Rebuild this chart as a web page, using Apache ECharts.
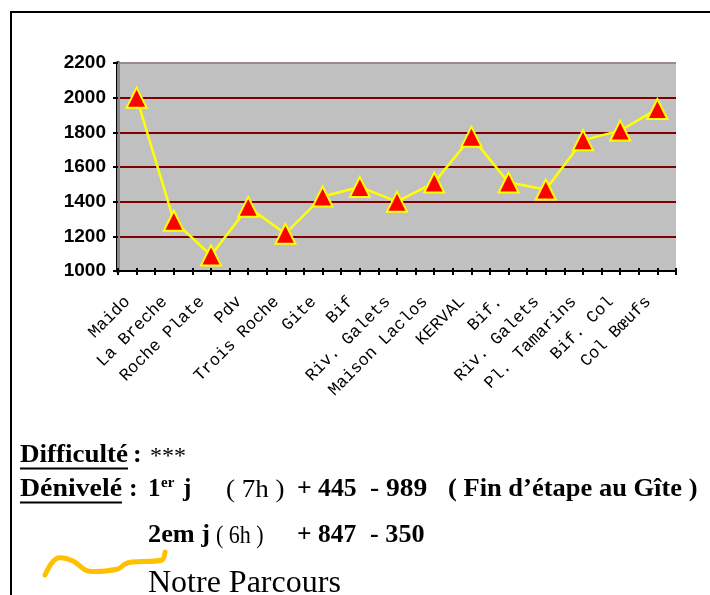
<!DOCTYPE html>
<html>
<head>
<meta charset="utf-8">
<script src="https://cdn.jsdelivr.net/npm/echarts@6/dist/echarts.min.js"></script>
<style>
html,body{margin:0;padding:0;background:#fff;}
#c{width:710px;height:595px;}
</style>
</head>
<body>
<div id="c"></div>
<script>
var categories = ['Maido','La Breche','Roche Plate','Pdv','Trois Roche','Gite','Bif','Riv. Galets','Maison Laclos','KERVAL','Bif.','Riv. Galets','Pl. Tamarins','Bif. Col','Col Bœufs'];
var altitudes = [2000, 1290, 1090, 1370, 1215, 1430, 1485, 1400, 1510, 1775, 1510, 1470, 1755, 1810, 1935];
var yTicks = {min: 1000, max: 2200, interval: 200};

var chart = echarts.init(document.getElementById('c'));
var serif = "'Liberation Serif','Times New Roman',serif";

// baseline-positioned text helper
function txt(x, baseline, s, size, weight, sx) {
  return {
    type: 'text', x: x, y: baseline - 0.32 * size, scaleX: sx || 1,
    style: {x: 0, y: 0, text: s, font: (weight || '') + ' ' + size + 'px ' + serif, fill: '#000', verticalAlign: 'middle', align: 'left'}
  };
}

var option = {
  backgroundColor: '#fff',
  animation: false,
  grid: {left: 118, top: 63, right: 34, bottom: 324, show: true, backgroundColor: '#C0C0C0', borderWidth: 0},
  xAxis: [
    {
      type: 'category', data: categories, boundaryGap: true,
      axisLine: {show: true, lineStyle: {color: '#000', width: 2}},
      axisTick: {show: false},
      axisLabel: {rotate: 45, interval: 0, margin: 19, padding: [0, 13, 0, 0], color: '#000',
        fontFamily: "'Liberation Mono','Courier New',monospace", fontSize: 17}
    },
    {
      type: 'value', min: 0, max: 30, interval: 1, position: 'bottom',
      axisLine: {show: false}, axisLabel: {show: false}, splitLine: {show: false},
      axisTick: {show: true, length: 4, lineStyle: {color: '#000', width: 2}}
    },
    {
      type: 'value', min: 0, max: 30, interval: 1, position: 'bottom',
      axisLine: {show: false}, axisLabel: {show: false}, splitLine: {show: false},
      axisTick: {show: true, inside: true, length: 3, lineStyle: {color: '#000', width: 2}}
    }
  ],
  yAxis: [
    {
      type: 'value', min: yTicks.min, max: yTicks.max, interval: yTicks.interval,
      axisLine: {show: true, lineStyle: {color: '#000', width: 4}},
      axisTick: {show: true, length: 5, lineStyle: {color: '#000', width: 2}},
      axisLabel: {color: '#000', fontFamily: "'Liberation Sans',Arial,sans-serif", fontWeight: 'bold', fontSize: 19, margin: 12,
        formatter: function (v) { return String(v); }},
      splitLine: {show: true, lineStyle: {color: ['#800000','#800000','#800000','#800000','#800000','#800000','#9a8a8a'], width: 2}}
    },
    {
      type: 'value', min: yTicks.min, max: yTicks.max, position: 'right',
      axisLine: {show: true, lineStyle: {color: '#8a8a8a', width: 3}},
      axisTick: {show: false}, axisLabel: {show: false}, splitLine: {show: false}
    }
  ],
  series: [{
    type: 'line', data: altitudes, xAxisIndex: 0, yAxisIndex: 0,
    lineStyle: {color: '#FFFF00', width: 2.5},
    symbol: 'triangle', symbolSize: 20,
    itemStyle: {color: '#FF0000', borderColor: '#FFFF00', borderWidth: 2},
    z: 5
  }],
  graphic: [
    {type: 'polyline', shape: {points: [[11,595],[11,12],[710,12]]}, style: {stroke: '#000', lineWidth: 2, fill: null}},
    txt(20, 464, 'Difficulté', 26, 'bold', 1.04),
    txt(133, 464, ':', 26, 'bold'),
    txt(150, 464, '***', 24, ''),
    {type: 'line', shape: {x1: 20, y1: 468.5, x2: 128, y2: 468.5}, style: {stroke: '#000', lineWidth: 2}},
    txt(20, 498, 'Dénivelé', 26, 'bold', 1.07),
    txt(129, 498, ':', 26, 'bold'),
    {type: 'line', shape: {x1: 20, y1: 502.5, x2: 122, y2: 502.5}, style: {stroke: '#000', lineWidth: 2}},
    txt(148, 498, '1', 25, 'bold'),
    txt(161, 488, 'er', 15, 'bold'),
    txt(183, 498, 'j', 25, 'bold'),
    txt(226, 498, '( 7h )', 25, '', 1.08),
    txt(297, 498, '+ 445', 25, 'bold', 1.03),
    txt(370, 498, '- 989', 25, 'bold', 1.1),
    txt(448, 498, '( Fin d\u2019étape au Gîte )', 25, 'bold', 1.06),
    txt(148, 544, '2em j', 25, 'bold', 1.05),
    txt(216, 544, '( 6h )', 25, '', 0.88),
    txt(297, 544, '+ 847', 25, 'bold', 1.02),
    txt(370, 544, '- 350', 25, 'bold', 1.05),
    {type: 'polyline', shape: {smooth: 0.3, points: [[45,575],[51,564],[58,558],[73,561],[88,571],[118,569],[125,564],[132,562],[162,560],[165,552]]},
      style: {stroke: '#FFC000', lineWidth: 5, fill: null, lineCap: 'round', lineJoin: 'round'}},
    txt(148, 594, 'Notre Parcours', 32, '')
  ]
};
chart.setOption(option);
</script>
</body>
</html>
